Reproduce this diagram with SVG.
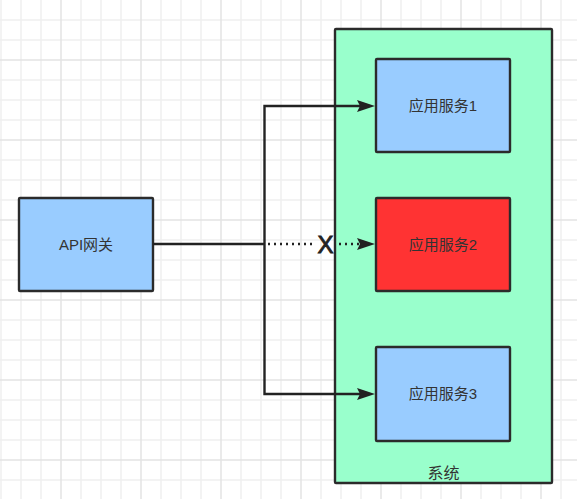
<svg xmlns="http://www.w3.org/2000/svg" width="577" height="499" viewBox="0 0 577 499">
  <style>
    .minor { stroke: #f0f0f0; stroke-width: 1.5; fill: none; }
    .major { stroke: #e4e4e4; stroke-width: 1.5; fill: none; }
    .box { stroke: #2b2b2b; stroke-width: 2.4; }
    .blue { fill: #99CCFF; }
    .red { fill: #FF3333; }
    .green { fill: #99FFCC; }
    .lbl { font-family: "Liberation Sans", "Noto Sans CJK SC", sans-serif; font-size: 15px; fill: #333333; text-anchor: middle; }
    .conn { stroke: #222222; stroke-width: 2.4; fill: none; }
    .dot { stroke: #222222; stroke-width: 2.4; fill: none; stroke-dasharray: 2 4; }
  </style>
  <defs>
    <marker id="arrow" viewBox="0 0 18 12" refX="3" refY="6" markerWidth="18" markerHeight="12" markerUnits="userSpaceOnUse" orient="auto">
      <path d="M0 0 L18 6 L0 12 L3 6 Z" fill="#222222"/>
    </marker>
  </defs>
  <rect width="577" height="499" fill="#ffffff"/>
  <g id="grid">
    <path class="minor" d="M1 0V499M21 0V499M41 0V499M81 0V499M101 0V499M121 0V499M161 0V499M181 0V499M201 0V499M241 0V499M261 0V499M281 0V499M321 0V499M341 0V499M361 0V499M401 0V499M421 0V499M441 0V499M481 0V499M501 0V499M521 0V499M561 0V499M0 20H577M0 40H577M0 80H577M0 100H577M0 120H577M0 160H577M0 180H577M0 200H577M0 240H577M0 260H577M0 280H577M0 320H577M0 340H577M0 360H577M0 400H577M0 420H577M0 440H577M0 480H577"/>
    <path class="major" d="M61 0V499M141 0V499M221 0V499M301 0V499M381 0V499M461 0V499M541 0V499M0 60H577M0 140H577M0 220H577M0 300H577M0 380H577M0 460H577"/>
  </g>
  <g id="system">
    <rect class="box green" x="335" y="29" width="217" height="454" rx="1"/>
    <text class="lbl" x="443.5" y="479" style="font-size:16px">系统</text>
  </g>
  <g id="gateway">
    <rect class="box blue" x="19" y="198" width="134" height="93" rx="1"/>
    <text class="lbl" x="86" y="250">API网关</text>
  </g>
  <g id="service1">
    <rect class="box blue" x="376" y="59" width="134" height="93" rx="1"/>
    <text class="lbl" x="443" y="111">应用服务1</text>
  </g>
  <g id="service2">
    <rect class="box red" x="376" y="198" width="134" height="93" rx="1"/>
    <text class="lbl" x="443" y="250">应用服务2</text>
  </g>
  <g id="service3">
    <rect class="box blue" x="376" y="347" width="134" height="94" rx="1"/>
    <text class="lbl" x="443" y="399">应用服务3</text>
  </g>
  <g id="connectors">
    <path class="conn" d="M153 244H264.5"/>
    <path class="conn" d="M264.5 244V106H360" marker-end="url(#arrow)"/>
    <path class="conn" d="M264.5 244V394H360" marker-end="url(#arrow)"/>
    <path class="dot" d="M268 244H316"/>
    <path class="dot" d="M339 244H360" marker-end="url(#arrow)"/>
    <text x="325.5" y="252.5" style="font-family:'Liberation Sans',sans-serif;font-size:24px;fill:#222222;stroke:#222222;stroke-width:0.9;text-anchor:middle">X</text>
  </g>
</svg>
